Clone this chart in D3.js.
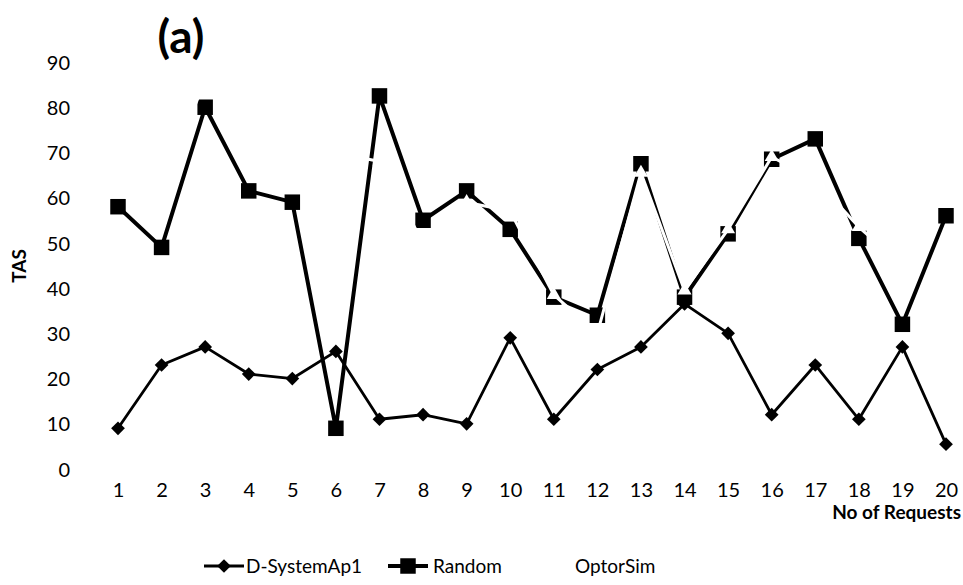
<!DOCTYPE html>
<html>
<head>
<meta charset="utf-8">
<script src="https://cdn.jsdelivr.net/npm/d3@7"></script>
<style>
  html, body { margin: 0; padding: 0; background: #fff; }
  svg { display: block; font-family: Lato, "Noto Sans", sans-serif; }
</style>
</head>
<body>
<svg id="chart" width="963" height="585"></svg>
<script>
// Number of requests on the x axis
const requests = [1,2,3,4,5,6,7,8,9,10,11,12,13,14,15,16,17,18,19,20];
// TAS per strategy
const dSystemAp1 = [9,23,27,21,20,26,11,12,10,29,11,22,27,36.5,30,12,23,11,27,5.5];
const randomTas  = [58,49,80,61.5,59,9,82.5,55,61.5,53,38,34,67.5,38,52,68.5,73,51,32,56];
const optorSim   = [65,62,86,72,70,70,68,50,59,57,38.5,30,65.5,39.5,53,69,64,53.5,45,62];
const yTicks = [0,10,20,30,40,50,60,70,80,90];
const seriesNames = ["D-SystemAp1", "Random", "OptorSim"];

const svg = d3.select("#chart");

const x = d3.scaleLinear().domain([1, 20]).range([118, 946]);
const y = d3.scaleLinear().domain([0, 90]).range([469, 62]);

// Y axis: labels only, no line or ticks
const yAxis = d3.axisLeft(y).tickValues(yTicks).tickSize(0).tickPadding(0);
svg.append("g")
  .attr("transform", "translate(70,0)")
  .call(yAxis)
  .call(g => g.select(".domain").remove())
  .call(g => g.selectAll("text")
    .attr("font-family", "Lato, 'Noto Sans', sans-serif")
    .attr("font-size", 20).attr("fill", "#000").attr("dy", "0.36em"));

// X axis: labels only
const xAxis = d3.axisBottom(x).tickValues(requests).tickSize(0).tickPadding(0);
svg.append("g")
  .attr("transform", "translate(0,483)")
  .call(xAxis)
  .call(g => g.select(".domain").remove())
  .call(g => g.selectAll("text")
    .attr("font-family", "Lato, 'Noto Sans', sans-serif")
    .attr("font-size", 20).attr("fill", "#000").attr("dy", "0.71em"));

// Titles
svg.append("text").attr("x", 181).attr("y", 53)
  .attr("text-anchor", "middle").attr("font-size", 46).attr("font-weight", "bold")
  .text("(a)");
svg.append("text")
  .attr("transform", "translate(26,266) rotate(-90)")
  .attr("text-anchor", "middle").attr("font-size", 19).attr("font-weight", "bold")
  .text("TAS");
svg.append("text").attr("x", 961).attr("y", 519)
  .attr("text-anchor", "end").attr("font-size", 19).attr("font-weight", "bold")
  .text("No of Requests");

const line = d3.line().x((d, i) => x(requests[i])).y(d => y(d));
const diamond = d3.symbol().type(d3.symbolDiamond2).size(120);
const square = d3.symbol().type(d3.symbolSquare).size(240);
const triangle = d3.symbol().type(d3.symbolTriangle).size(85);

function drawSeries(values, opts) {
  const g = svg.append("g");
  g.append("path").datum(values)
    .attr("d", line).attr("fill", "none")
    .attr("stroke", opts.color).attr("stroke-width", opts.width)
    .attr("stroke-linejoin", "round");
  g.selectAll("path.m").data(values).join("path")
    .attr("class", "m")
    .attr("transform", (d, i) => `translate(${x(requests[i])},${y(d)})`)
    .attr("d", opts.symbol).attr("fill", opts.color);
}

drawSeries(dSystemAp1, { color: "#000", width: 2.8, symbol: diamond });
drawSeries(randomTas,  { color: "#000", width: 4, symbol: square });
drawSeries(optorSim,   { color: "#fff", width: 3, symbol: triangle });

// Legend
const legend = [
  { name: seriesNames[0], x0: 204, color: "#000", w: 2.8, symbol: diamond, tx: 246 },
  { name: seriesNames[1], x0: 388, color: "#000", w: 4, symbol: square, tx: 433 },
  { name: seriesNames[2], x0: 530, color: "#fff", w: 3, symbol: triangle, tx: 575 }
];
const ly = 566;
legend.forEach(l => {
  svg.append("line").attr("x1", l.x0).attr("x2", l.x0 + 40)
    .attr("y1", ly).attr("y2", ly).attr("stroke", l.color).attr("stroke-width", l.w);
  svg.append("path").attr("transform", `translate(${l.x0 + 20},${ly})`)
    .attr("d", l.symbol).attr("fill", l.color);
  svg.append("text").attr("x", l.tx).attr("y", ly).attr("dy", "0.36em")
    .attr("font-size", 19).text(l.name);
});
</script>
</body>
</html>
